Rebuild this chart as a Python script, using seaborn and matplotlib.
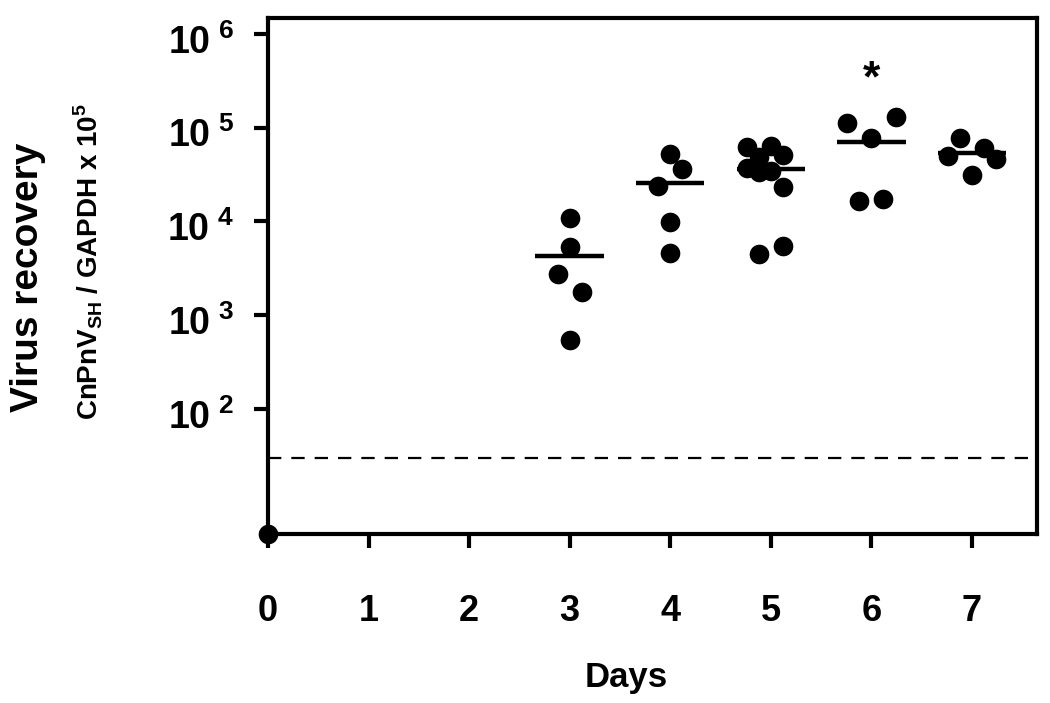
"""
Virus recovery over time (CnPnV_SH / GAPDH), log scale dot plot with group means.
"""
import numpy as np
import pandas as pd
import matplotlib
matplotlib.use("Agg")
import matplotlib.pyplot as plt
import seaborn as sns
from matplotlib.ticker import NullLocator
from matplotlib.transforms import ScaledTranslation

# values per animal (CnPnV_SH / GAPDH x 10^5)
days = [3, 4, 5, 6, 7]
day3 = [10800, 5300, 2750, 1760, 545]
day4 = [52100, 36300, 24100, 9950, 4580]
day5 = [62800, 64400, 51100, 49100, 36900, 33500, 34600, 23500, 4470, 5520]
day6 = [111500, 131200, 77100, 16300, 17400]
day7 = [78300, 50000, 61200, 46400, 31300]

# horizontal spread of the dots (in days), same order as the values
jit3 = [0, 0, -0.12, 0.12, 0]
jit4 = [0, 0.12, -0.12, 0, 0]
jit5 = [-0.24, 0, 0.12, -0.12, -0.24, -0.12, 0, 0.12, -0.12, 0.12]
jit6 = [-0.24, 0.24, 0, -0.12, 0.12]
jit7 = [-0.12, -0.24, 0.12, 0.24, 0]

day0_value = 4.6          # undetectable at day 0, sits on the axis floor
detection_limit = 30
star_day, star_value = 6, 3.2e5

x_ticks = [0, 1, 2, 3, 4, 5, 6, 7]
y_ticks = [1e2, 1e3, 1e4, 1e5, 1e6]
y_tick_labels = [r"$\mathbf{10}\:{}^{\mathbf{%d}}$" % p for p in (2, 3, 4, 5, 6)]

groups = [day3, day4, day5, day6, day7]
jitters = [jit3, jit4, jit5, jit6, jit7]
rows = []
for d, vals, jit in zip(days, groups, jitters):
    for v, j in zip(vals, jit):
        rows.append({"day": d, "x": d + j, "value": v})
df = pd.DataFrame(rows)
means = df.groupby("day")["value"].mean().reindex(days).values

sns.set_style("ticks")
plt.rcParams["font.family"] = ["Liberation Sans", "DejaVu Sans"]
plt.rcParams["font.weight"] = "bold"
plt.rcParams["mathtext.fontset"] = "custom"
plt.rcParams["mathtext.rm"] = "Liberation Sans:bold"
plt.rcParams["mathtext.bf"] = "Liberation Sans:bold"
for key in ("text.color", "axes.labelcolor", "xtick.color", "ytick.color", "axes.edgecolor"):
    plt.rcParams[key] = "black"

fig = plt.figure(figsize=(10.5, 7.03), dpi=100)
ax = fig.add_axes([0.2552, 0.2404, 0.7324, 0.734])

ax.axhline(detection_limit, color="black", lw=1.6, dashes=(6, 4.5), zorder=1)
ax.hlines(means, np.array(days) - 0.34, np.array(days) + 0.34, color="black", lw=3.2, zorder=2)
sns.scatterplot(data=df, x="x", y="value", color="black", s=200, linewidth=0,
                legend=False, ax=ax, zorder=3)
sns.scatterplot(x=[0], y=[day0_value], color="black", s=200, linewidth=0,
                legend=False, ax=ax, zorder=4, clip_on=False)
ax.text(star_day, star_value, "*", fontsize=32, fontweight="bold", ha="center", va="center")

ax.set_yscale("log")
ax.set_ylim(day0_value, 1.48e6)
ax.set_xlim(0, 7.646)
ax.set_xticks(x_ticks)
ax.set_xticklabels([str(t) for t in x_ticks])
ax.set_yticks(y_ticks)
ax.set_yticklabels(y_tick_labels)
ax.yaxis.set_minor_locator(NullLocator())
ax.tick_params(axis="both", direction="out", length=10, width=3, labelsize=27)
ax.tick_params(axis="x", pad=33, labelsize=26)
ax.tick_params(axis="y", pad=14)
# labels sit a little below their ticks in the original
shift = ScaledTranslation(0, -5 / 100, fig.dpi_scale_trans)
for lab in ax.get_yticklabels():
    lab.set_transform(lab.get_transform() + shift)
ax.set_xlabel("")
ax.set_ylabel("")
for s in ax.spines.values():
    s.set_linewidth(3)
    s.set_visible(True)

fig.text(28 / 1050, 1 - 277 / 703, "Virus recovery", rotation=90, fontsize=28,
         fontweight="bold", ha="center", va="center")
fig.text(88 / 1050, 1 - 262 / 703, r"CnPnV$_{\mathbf{SH}}$ / GAPDH x 10$^{\mathrm{5}}$",
         rotation=90, fontsize=20, fontweight="bold", ha="center", va="center")
fig.text(626 / 1050, 1 - 678 / 703, "Days", fontsize=25, fontweight="bold",
         ha="center", va="center")

fig.savefig("out.png", dpi=100)
plt.close(fig)
